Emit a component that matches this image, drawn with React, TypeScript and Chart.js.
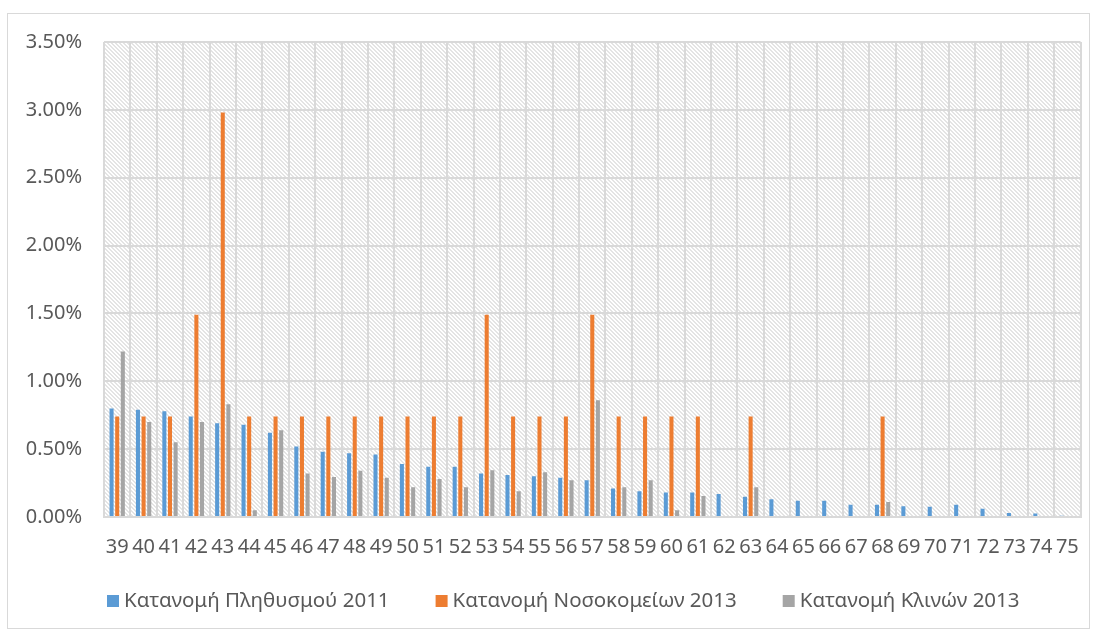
import React, { useEffect, useRef } from "react";
import { Chart, registerables } from "chart.js";

Chart.register(...registerables);

const categories = ["39","40","41","42","43","44","45","46","47","48","49","50","51","52","53","54","55","56","57","58","59","60","61","62","63","64","65","66","67","68","69","70","71","72","73","74","75"];

const population2011 = [0.80,0.79,0.78,0.74,0.69,0.68,0.62,0.52,0.48,0.47,0.46,0.39,0.37,0.37,0.32,0.31,0.30,0.29,0.27,0.21,0.19,0.18,0.18,0.17,0.15,0.13,0.12,0.12,0.09,0.09,0.08,0.075,0.09,0.06,0.03,0.025,0.01];

const hospitals2013 = [0.74,0.74,0.74,1.49,2.98,0.74,0.74,0.74,0.74,0.74,0.74,0.74,0.74,0.74,1.49,0.74,0.74,0.74,1.49,0.74,0.74,0.74,0.74,0,0.74,0,0,0,0,0.74,0,0,0,0,0,0,0];

const beds2013 = [1.22,0.70,0.55,0.70,0.83,0.05,0.64,0.32,0.295,0.34,0.29,0.22,0.28,0.22,0.345,0.19,0.33,0.27,0.86,0.22,0.27,0.05,0.155,0,0.22,0,0,0,0,0.11,0,0,0,0,0,0,0];

const seriesLabels = ["Κατανομή Πληθυσμού 2011", "Κατανομή Νοσοκομείων 2013", "Κατανομή Κλινών 2013"];
const seriesColors = ["#5B9BD5", "#ED7D31", "#A5A5A5"];

const FONT = "'Noto Sans', 'Open Sans', sans-serif";

export default function App() {
  const ref = useRef<HTMLCanvasElement | null>(null);

  useEffect(() => {
    const canvas = ref.current;
    if (!canvas) return;

    const tile = document.createElement("canvas");
    tile.width = 4;
    tile.height = 4;
    const tctx = tile.getContext("2d")!;
    tctx.fillStyle = "#ffffff";
    tctx.fillRect(0, 0, 4, 4);
    tctx.fillStyle = "#e4e4e4";
    for (let x = 0; x < 4; x++) {
      for (let y = 0; y < 4; y++) {
        const d = (((x - y) % 4) + 4) % 4;
        if (d === 0 || d === 1) tctx.fillRect(x, y, 1, 1);
      }
    }

    const bgPlugin = {
      id: "bgPattern",
      beforeDraw(chart: any) {
        const { ctx, chartArea } = chart;
        ctx.save();
        ctx.fillStyle = "#ffffff";
        ctx.fillRect(0, 0, chart.width, chart.height);
        const pat = ctx.createPattern(tile, "repeat");
        ctx.fillStyle = pat;
        ctx.fillRect(chartArea.left, chartArea.top, chartArea.right - chartArea.left, chartArea.bottom - chartArea.top);
        ctx.restore();
      },
      afterDraw(chart: any) {
        const { ctx } = chart;
        ctx.save();
        ctx.strokeStyle = "#d9d9d9";
        ctx.lineWidth = 1;
        ctx.strokeRect(7.5, 13.5, 1082, 615);
        // legend
        ctx.font = `20.5px ${FONT}`;
        ctx.textBaseline = "middle";
        ctx.textAlign = "left";
        const cy = 601;
        let x = 107;
        chart.data.datasets.forEach((ds: any, i: number) => {
          ctx.fillStyle = ds.backgroundColor;
          ctx.fillRect(x, cy - 6, 12, 12);
          ctx.fillStyle = "#595959";
          ctx.fillText(ds.label, x + 17, cy);
          x += 17 + ctx.measureText(ds.label).width + 46;
        });
        ctx.restore();
      },
    };

    const chart = new Chart(canvas, {
      type: "bar",
      data: {
        labels: categories,
        datasets: [
          { label: seriesLabels[0], data: population2011, backgroundColor: seriesColors[0] },
          { label: seriesLabels[1], data: hospitals2013, backgroundColor: seriesColors[1] },
          { label: seriesLabels[2], data: beds2013, backgroundColor: seriesColors[2] },
        ],
      },
      options: {
        animation: false,
        responsive: false,
        maintainAspectRatio: false,
        layout: { padding: { left: 16, right: 15, top: 42, bottom: 0 } },
        datasets: {
          bar: { categoryPercentage: 0.64, barPercentage: 0.72 },
        },
        plugins: {
          legend: { display: false },
          tooltip: { enabled: false },
        },
        scales: {
          x: {
            grid: { color: "#d9d9d9", lineWidth: 2, drawTicks: false, offset: true },
            border: { color: "#d9d9d9", width: 2 },
            ticks: {
              color: "#595959",
              font: { family: FONT, size: 20 },
              padding: 18,
              maxRotation: 0,
              autoSkip: false,
            },
            afterFit(scale: any) {
              scale.height = 113;
            },
          },
          y: {
            min: 0,
            max: 3.5,
            grid: { color: "#d9d9d9", lineWidth: 2, drawTicks: false },
            border: { display: false },
            ticks: {
              stepSize: 0.5,
              color: "#595959",
              font: { family: FONT, size: 20 },
              padding: 22,
              callback: (v: any) => Number(v).toFixed(2) + "%",
            },
            afterFit(scale: any) {
              scale.width = 88;
            },
          },
        },
      },
      plugins: [bgPlugin],
    });

    return () => chart.destroy();
  }, []);

  return (
    <div style={{ position: "absolute", left: 0, top: 0, width: 1097, height: 630 }}>
      <canvas ref={ref} width={1097} height={630} style={{ width: 1097, height: 630 }} />
    </div>
  );
}
